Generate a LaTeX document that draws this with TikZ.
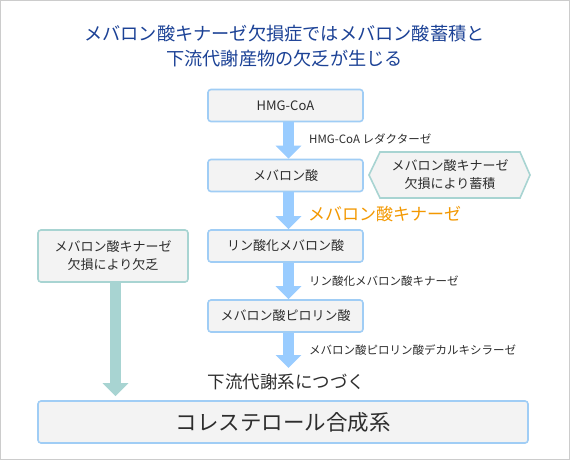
\documentclass[tikz,border=0pt]{standalone}
\usepackage{fontspec}
\setmainfont{Noto Sans CJK JP}
\usetikzlibrary{arrows.meta}
\definecolor{titleblue}{RGB}{28,66,150}
\definecolor{boxblue}{RGB}{160,205,245}
\definecolor{arrblue}{RGB}{153,204,255}
\definecolor{teal}{RGB}{168,212,210}
\definecolor{boxfill}{RGB}{243,243,243}
\definecolor{orng}{RGB}{243,152,0}
\definecolor{txt}{RGB}{45,45,45}
\definecolor{frame}{RGB}{204,204,204}
\tikzset{
  stepbox/.style={draw=boxblue, fill=boxfill, line width=1.6pt, rounded corners=3pt,
    minimum width=155pt, minimum height=32pt, inner sep=0pt, text=txt, font=\fontsize{13}{18}\selectfont},
  notebox/.style={draw=teal, fill=boxfill, line width=1.6pt, rounded corners=3pt,
    minimum width=150pt, minimum height=52pt, inner sep=0pt, text=txt, align=center,
    font=\fontsize{13}{18}\selectfont},
  blockarrow/.style={line width=11pt, draw=#1, -{Triangle[width=25pt,length=13pt]}},
  enzyme/.style={anchor=west, text=txt, inner sep=0pt, font=\fontsize{11.5}{14}\selectfont},
}
\begin{document}
\begin{tikzpicture}[x=1pt,y=-1pt]
\useasboundingbox (0,0) rectangle (570,460);
\fill[white] (0,0) rectangle (570,460);
\draw[frame, line width=1pt] (0.5,0.5) rectangle (569.5,459.5);

\node[text=titleblue, align=center, font=\fontsize{18.2}{25}\selectfont] (title) at (284.5,46)
  {メバロン酸キナーゼ欠損症ではメバロン酸蓄積と\\下流代謝産物の欠乏が生じる};

\node[stepbox] (hmg) at (285.5,105.5) {HMG-CoA};
\node[stepbox] (mev) at (285.5,175.5) {メバロン酸};
\node[stepbox] (pmev) at (285.5,246) {リン酸化メバロン酸};
\node[stepbox] (ppmev) at (285.5,316) {メバロン酸ピロリン酸};
\node[notebox] (lack) at (113,256) {メバロン酸キナーゼ\\欠損により欠乏};
\node[stepbox, minimum width=490pt, minimum height=42pt, font=\fontsize{21.5}{26}\selectfont] (chol) at (283,422) {コレステロール合成系};

% hexagon note
\draw[teal, fill=boxfill, line width=1.6pt] (369,175) -- (380,152) -- (520,152) -- (530,175) -- (520,198) -- (380,198) -- cycle;
\node[text=txt, align=center, inner sep=0pt, font=\fontsize{13}{18}\selectfont] (accum) at (450,175) {メバロン酸キナーゼ\\欠損により蓄積};

\coordinate (down) at (288.5,368);

\draw[blockarrow=arrblue] ([xshift=3pt]hmg.south) -- ([xshift=3pt]mev.north);
\draw[blockarrow=arrblue] ([xshift=3pt]mev.south) -- ([xshift=3pt]pmev.north);
\draw[blockarrow=arrblue] ([xshift=3pt]pmev.south) -- ([xshift=3pt]ppmev.north);
\draw[blockarrow=arrblue] ([xshift=3pt]ppmev.south) -- (down);
\draw[blockarrow=teal] ([xshift=2.5pt]lack.south) -- ([xshift=2.5pt,yshift=4pt]lack.south |- chol.north);

\node[enzyme] (e1) at (309,139) {HMG-CoA レダクターゼ};
\node[anchor=west, text=orng, inner sep=0pt, font=\fontsize{17}{20}\selectfont] (e2) at (308,214) {メバロン酸キナーゼ};
\node[enzyme] (e3) at (309,281) {リン酸化メバロン酸キナーゼ};
\node[enzyme] (e4) at (309,350) {メバロン酸ピロリン酸デカルキシラーゼ};

\node[text=txt, inner sep=0pt, font=\fontsize{17.5}{20}\selectfont] (cont) at (286.5,382) {下流代謝系につづく};
\end{tikzpicture}
\end{document}
